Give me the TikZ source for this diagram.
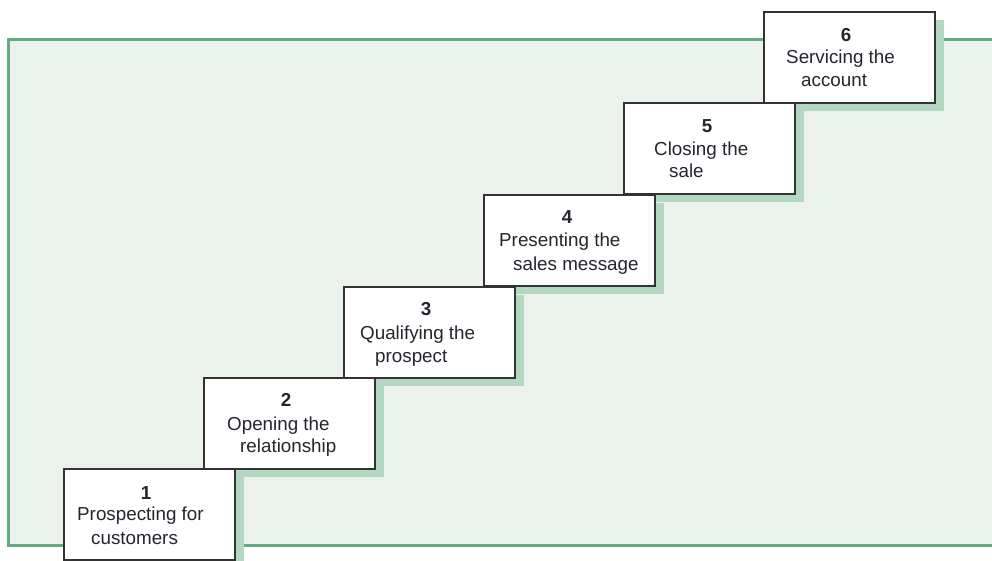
\documentclass[tikz,border=0pt]{standalone}
\usepackage{fontspec}
\setmainfont{Liberation Sans}
\usetikzlibrary{shadows}
\definecolor{panelfill}{HTML}{EBF2EC}
\definecolor{panelline}{HTML}{62AA82}
\definecolor{shadowc}{HTML}{B3D7C0}
\definecolor{boxline}{HTML}{333333}
\definecolor{inkc}{HTML}{25252F}
\tikzset{
  stepbox/.style={draw=boxline, line width=2pt, fill=white, minimum width=171pt,
    minimum height=91pt, inner sep=0pt, anchor=north west,
    drop shadow={shadow xshift=9pt, shadow yshift=-8pt, fill=shadowc, opacity=1}},
  stepnum/.style={anchor=base, inner sep=0pt, text=inkc,
    font=\fontsize{18.8}{22}\selectfont\bfseries},
  steptext/.style={anchor=base west, inner sep=0pt, text=inkc,
    font=\fontsize{18.8}{22}\selectfont}
}
\begin{document}
\begin{tikzpicture}[x=1pt, y=-1pt]
  \useasboundingbox (0,0) rectangle (992,561);
  \clip (0,0) rectangle (992,561);
  % green panel behind the staircase, open to the right
  \fill[panelfill] (8,40) rectangle (1010,545);
  \draw[panelline, line width=3pt] (1010,40) -- (8,40) -- (8,545) -- (1010,545);

  % steps, drawn from the top down so each lower step covers the shadow of the next
  \node[stepbox] (s6) at (763,11) {};
  \node[stepbox] (s5) at (623,102) {};
  \node[stepbox] (s4) at (483,194) {};
  \node[stepbox] (s3) at (343,286) {};
  \node[stepbox] (s2) at (203,377) {};
  \node[stepbox] (s1) at (63,468) {};

  % step 1
  \node[stepnum]  (n1) at (146,499) {1};
  \node[steptext] (a1) at (77,520) {Prospecting for};
  \node[steptext] (b1) at (91,544) {customers};
  % step 2
  \node[stepnum]  (n2) at (286,406) {2};
  \node[steptext] (a2) at (227,430) {Opening the};
  \node[steptext] (b2) at (240,452) {relationship};
  % step 3
  \node[stepnum]  (n3) at (426,315) {3};
  \node[steptext] (a3) at (360,339) {Qualifying the};
  \node[steptext] (b3) at (375,362) {prospect};
  % step 4
  \node[stepnum]  (n4) at (567,224) {4};
  \node[steptext] (a4) at (499,247) {Presenting the};
  \node[steptext] (b4) at (513,270) {sales message};
  % step 5
  \node[stepnum]  (n5) at (707,133) {5};
  \node[steptext] (a5) at (654,156) {Closing the};
  \node[steptext] (b5) at (669,178) {sale};
  % step 6
  \node[stepnum]  (n6) at (846,42) {6};
  \node[steptext] (a6) at (786,64) {Servicing the};
  \node[steptext] (b6) at (801,87) {account};
\end{tikzpicture}
\end{document}
